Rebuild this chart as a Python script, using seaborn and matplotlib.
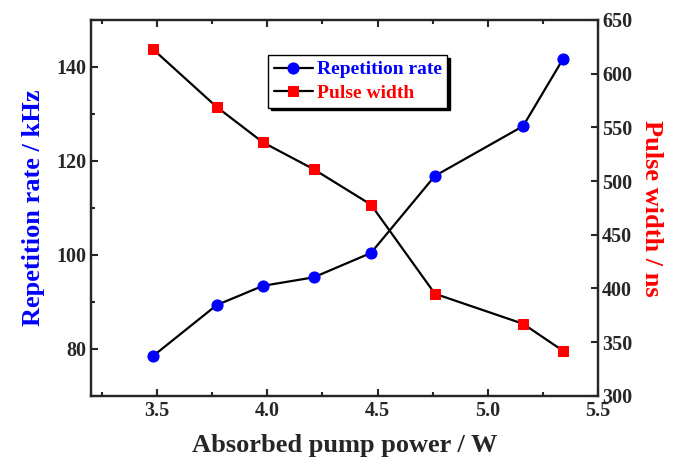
import pandas as pd
import matplotlib
matplotlib.use('Agg')
import matplotlib.pyplot as plt
import seaborn as sns
from matplotlib.ticker import MultipleLocator

# values
power = [3.48, 3.77, 3.98, 4.21, 4.47, 4.76, 5.16, 5.34]
rep_rate = [78.4, 89.3, 93.4, 95.2, 100.4, 116.8, 127.4, 141.6]
pulse_width = [623, 569, 536, 511, 478, 395, 367, 342]

sns.set_style('ticks')
plt.rcParams['font.family'] = ['Liberation Serif', 'DejaVu Serif']
plt.rcParams['font.weight'] = 'bold'
plt.rcParams['axes.linewidth'] = 1.6

fig = plt.figure(figsize=(6.88, 4.65), dpi=100)
ax = fig.add_axes([0.1323, 0.149, 0.7369, 0.808])
ax2 = ax.twinx()

sns.lineplot(x=power, y=rep_rate, ax=ax, color='black', lw=1.6,
             marker='o', markersize=8, markerfacecolor='blue',
             markeredgecolor='blue', label='Repetition rate', legend=False)
sns.lineplot(x=power, y=pulse_width, ax=ax2, color='black', lw=1.6,
             marker='s', markersize=7, markerfacecolor='red',
             markeredgecolor='red', label='Pulse width', legend=False)

ax.set_xlim(3.2, 5.5)
ax.set_ylim(70, 150)
ax2.set_ylim(300, 650)
ax.xaxis.set_major_locator(MultipleLocator(0.5))
ax.xaxis.set_minor_locator(MultipleLocator(0.25))
ax.yaxis.set_major_locator(MultipleLocator(20))
ax.yaxis.set_minor_locator(MultipleLocator(10))
ax2.yaxis.set_major_locator(MultipleLocator(50))

ax.tick_params(which='both', direction='in', top=True, right=False,
               labelsize=14.5, width=1.5)
ax.tick_params(which='major', length=5)
ax.tick_params(which='minor', length=3)
ax2.tick_params(which='both', direction='in', labelsize=14.5, width=1.5, length=5, pad=3)
for lab in ax.get_xticklabels() + ax.get_yticklabels() + ax2.get_yticklabels():
    lab.set_fontweight('bold')

ax.set_xlabel('Absorbed pump power / W', fontsize=19, fontweight='bold', labelpad=10)
ax.set_ylabel('Repetition rate / kHz', fontsize=19, fontweight='bold', color='blue',
              labelpad=8)
ax2.set_ylabel('Pulse width / ns', fontsize=19, fontweight='bold', color='red',
               rotation=270, labelpad=22)

h1, l1 = ax.get_legend_handles_labels()
h2, l2 = ax2.get_legend_handles_labels()
leg = ax2.legend(h1 + h2, l1 + l2, loc='upper left', bbox_to_anchor=(0.349, 0.907),
                 frameon=True, fancybox=False,
                 shadow={'color': 'black', 'alpha': 1.0}, edgecolor='black',
                 fontsize=14, handlelength=2.0, handletextpad=0.2,
                 borderpad=0.3, labelspacing=0.3, borderaxespad=0)
leg.get_frame().set_linewidth(1.0)
for txt, c in zip(leg.get_texts(), ['blue', 'red']):
    txt.set_color(c)
    txt.set_fontweight('bold')

fig.savefig('out.png', dpi=100)
